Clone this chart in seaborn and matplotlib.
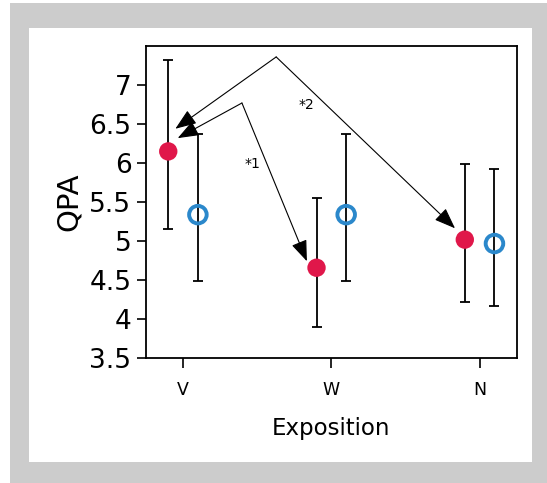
import numpy as np
import matplotlib
matplotlib.use("Agg")
import matplotlib.pyplot as plt
from matplotlib.patches import Rectangle
import seaborn as sns
import pandas as pd

# ------------------------------
# DATA
# ------------------------------
expositions = ["V", "W", "N"]
groups = ["a", "b"]
red_mean = [6.15, 4.66, 5.02]
red_low = [5.15, 3.90, 4.22]
red_high = [7.32, 5.55, 5.99]
blue_mean = [5.34, 5.34, 4.97]
blue_low = [4.49, 4.49, 4.17]
blue_high = [6.37, 6.37, 5.93]

RED = "#e0174a"
BLUE = "#2b88cb"
DODGE = 0.1

rows = []
for i, e in enumerate(expositions):
    rows.append({"Exposition": e, "group": "a", "x": i - DODGE,
                 "QPA": red_mean[i], "lo": red_low[i], "hi": red_high[i]})
    rows.append({"Exposition": e, "group": "b", "x": i + DODGE,
                 "QPA": blue_mean[i], "lo": blue_low[i], "hi": blue_high[i]})
df = pd.DataFrame(rows)

sns.set_theme(style="ticks")
plt.rcParams["font.family"] = ["DejaVu Sans"]

W, H = 547, 483
fig = plt.figure(figsize=(W / 100, H / 100), dpi=100)
fig.patch.set_facecolor("white")

# grey frame and white panel behind the chart
fig.patches.append(Rectangle((10 / W, 0), 1 - 10 / W, 1 - 3 / H, transform=fig.transFigure,
                             facecolor="#cccccc", edgecolor="none", zorder=-2))
fig.patches.append(Rectangle((29 / W, 1 - 462 / H), (532 - 29) / W, (462 - 28) / H,
                             transform=fig.transFigure, facecolor="white",
                             edgecolor="none", zorder=-1))

ax = fig.add_axes([146 / W, 1 - 358.3 / H, (516.7 - 146) / W, (358.3 - 46) / H])
ax.set_facecolor("white")

# error bars
for _, r in df.iterrows():
    ax.errorbar(r["x"], r["QPA"], yerr=[[r["QPA"] - r["lo"]], [r["hi"] - r["QPA"]]],
                fmt="none", ecolor="black", elinewidth=1.3, capsize=3.3,
                capthick=1.3, zorder=2)

red = df[df["group"] == "a"]
blue = df[df["group"] == "b"]
sns.scatterplot(data=red, x="x", y="QPA", ax=ax, color=RED, s=175,
                edgecolor="none", zorder=3, legend=False)
sns.scatterplot(data=blue, x="x", y="QPA", ax=ax, s=160, marker="o",
                facecolors="none", edgecolor=BLUE, linewidth=2.8, zorder=3,
                legend=False)

ax.set_xlim(-0.25, 2.25)
ax.set_ylim(3.5, 7.5)
ax.set_xticks(range(len(expositions)))
ax.set_xticklabels(expositions, fontsize=12.5)
yt = np.arange(3.5, 7.01, 0.5)
ax.set_yticks(yt)
ax.set_yticklabels([f"{v:g}" for v in yt], fontsize=19)
ax.tick_params(axis="y", length=6.5, width=1.2, pad=4, colors="black")
ax.tick_params(axis="x", length=7, width=1.2, pad=9, colors="black")
for s in ax.spines.values():
    s.set_visible(True)
    s.set_color("black")
    s.set_linewidth(1.3)

ax.set_xlabel("Exposition", fontsize=16.5, labelpad=13, color="black")
ax.set_ylabel("QPA", fontsize=21, labelpad=5, color="black")

# significance arrows
arrow = dict(arrowstyle="-|>,head_length=1.0,head_width=0.38", color="black",
             lw=0.8, shrinkA=0, shrinkB=0, mutation_scale=13)
ax.annotate("", xy=(-0.052, 6.44), xytext=(0.628, 7.36), arrowprops=arrow)
ax.annotate("", xy=(1.834, 5.165), xytext=(0.628, 7.36), arrowprops=arrow)
ax.annotate("", xy=(-0.036, 6.32), xytext=(0.397, 6.77), arrowprops=arrow)
ax.annotate("", xy=(0.835, 4.743), xytext=(0.397, 6.77), arrowprops=arrow)
ax.text(0.835, 6.74, "*2", fontsize=10, ha="center", va="center", color="black")
ax.text(0.465, 5.99, "*1", fontsize=10, ha="center", va="center", color="black")

fig.savefig("out.png", dpi=100, facecolor=fig.get_facecolor())
